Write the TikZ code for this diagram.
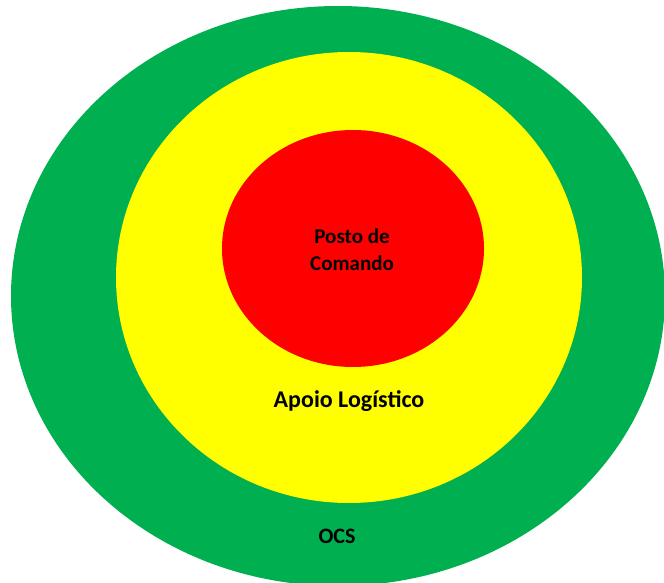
\documentclass[tikz,border=0pt]{standalone}
\usepackage{fontspec}
\setsansfont{Carlito}
\usepackage{tikz}
\usetikzlibrary{shapes.geometric,positioning}
\definecolor{ocsgreen}{HTML}{00B050}
\definecolor{apoioyellow}{HTML}{FFFF00}
\definecolor{postored}{HTML}{FF0000}
\tikzset{zone/.style={ellipse,inner sep=0pt,draw=none},label text/.style={font=\sffamily\bfseries,text=black,align=center},every picture/.style={line cap=round}}

\begin{document}
\begin{tikzpicture}[x=1pt,y=-1pt]
\useasboundingbox (0,0) rectangle (664,583);
\node[zone,fill=ocsgreen,minimum width=654pt,minimum height=580pt] (ocs) at (338,296) {};
\node[zone,fill=apoioyellow,minimum width=466pt,minimum height=451pt] (apoio) at (349,277.5) {};
\node[zone,fill=postored,minimum width=262pt,minimum height=237pt] (posto) at (353,248.5) {};
\node[label text,font=\sffamily\bfseries\fontsize{21}{27}\selectfont] (postolbl) at (352,250) {Posto de\\Comando};
\node[label text,font=\sffamily\bfseries\fontsize{24}{28}\selectfont] (apoiolbl) at (349,401) {Apoio Logístico};
\node[label text,font=\sffamily\bfseries\fontsize{22}{26}\selectfont] (ocslbl) at (337,536) {OCS};
\end{tikzpicture}
\end{document}
